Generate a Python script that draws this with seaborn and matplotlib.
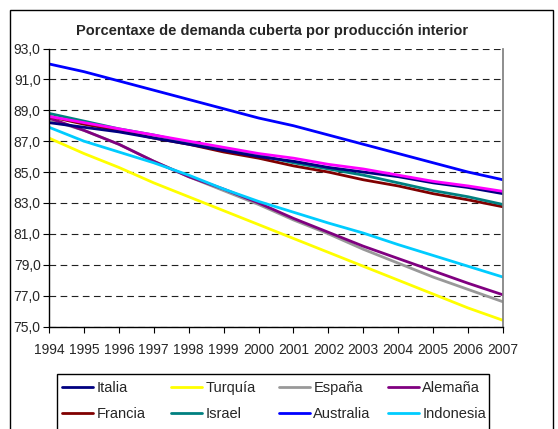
import pandas as pd
import seaborn as sns
import matplotlib.pyplot as plt
from matplotlib.ticker import FuncFormatter
from matplotlib.patches import Rectangle
from matplotlib.lines import Line2D

# values
years = list(range(1994, 2008))
italia = [88.2, 87.9, 87.6, 87.2, 86.8, 86.4, 86.0, 85.7, 85.3, 85.0, 84.7, 84.3, 84.0, 83.6]
turquia = [87.2, 86.2, 85.3, 84.3, 83.4, 82.5, 81.6, 80.7, 79.8, 78.9, 78.0, 77.1, 76.2, 75.4]
espana = [88.4, 87.7, 86.8, 85.7, 84.7, 83.8, 82.9, 81.9, 81.0, 80.0, 79.1, 78.2, 77.4, 76.6]
alemana = [88.5, 87.7, 86.8, 85.7, 84.7, 83.9, 83.0, 82.0, 81.1, 80.2, 79.4, 78.6, 77.8, 77.05]
francia = [88.6, 88.1, 87.7, 87.2, 86.8, 86.3, 85.9, 85.4, 85.0, 84.5, 84.1, 83.6, 83.2, 82.75]
israel = [88.8, 88.3, 87.8, 87.4, 86.9, 86.5, 86.1, 85.6, 85.2, 84.8, 84.3, 83.8, 83.4, 82.9]
australia = [92.0, 91.5, 90.9, 90.3, 89.7, 89.1, 88.5, 88.0, 87.4, 86.8, 86.2, 85.6, 85.0, 84.5]
indonesia = [87.9, 87.0, 86.3, 85.6, 84.8, 83.9, 83.1, 82.4, 81.7, 81.05, 80.3, 79.6, 78.9, 78.2]
# ninth series (its legend entry is cut off in the reference)
outro = [88.6, 88.2, 87.8, 87.4, 87.0, 86.6, 86.2, 85.9, 85.5, 85.2, 84.8, 84.4, 84.1, 83.75]
y_ticks = [75, 77, 79, 81, 83, 85, 87, 89, 91, 93]

series = {
    'Italia': italia, 'Turquía': turquia, 'España': espana, 'Alemaña': alemana,
    'Francia': francia, 'Israel': israel, 'Australia': australia, 'Indonesia': indonesia,
    'Outro': outro,
}
colors = {
    'Italia': '#000080', 'Turquía': '#FFFF00', 'España': '#999999', 'Alemaña': '#800080',
    'Francia': '#800000', 'Israel': '#008080', 'Australia': '#0000FF', 'Indonesia': '#00CCFF',
    'Outro': '#FF00FF',
}
draw_order = ['Turquía', 'España', 'Alemaña', 'Indonesia', 'Francia', 'Israel',
              'Italia', 'Outro', 'Australia']

df = pd.DataFrame([(c, y, v) for c, vals in series.items() for y, v in zip(years, vals)],
                  columns=['pais', 'ano', 'valor'])

sns.set_theme(style='white')
plt.rcParams['font.family'] = ['Liberation Sans', 'DejaVu Sans']

fig = plt.figure(figsize=(5.58, 4.29), dpi=100)
ax = fig.add_axes([49 / 558, 1 - 326.5 / 429, 454 / 558, 278 / 429])

for name in draw_order:
    sub = df[df['pais'] == name]
    sns.lineplot(data=sub, x='ano', y='valor', color=colors[name], linewidth=2.0,
                 ax=ax, legend=False)

ax.set_xlim(1994, 2007)
ax.set_ylim(75, 93)
ax.set_yticks(y_ticks)
ax.set_xticks(years)
ax.yaxis.set_major_formatter(FuncFormatter(lambda v, p: f'{v:.1f}'.replace('.', ',')))
ax.set_xlabel('')
ax.set_ylabel('')
ax.tick_params(axis='both', labelsize=10, length=4, width=0.8, color='black',
               direction='out', pad=2, left=True, bottom=True)
ax.tick_params(axis='x', pad=8)

ax.grid(axis='y', color='#202020', linestyle=(0, (6, 4)), linewidth=0.8)
ax.set_axisbelow(True)
for s in ['left', 'bottom']:
    ax.spines[s].set_color('black')
    ax.spines[s].set_linewidth(1.0)
ax.spines['right'].set_color('#808080')
ax.spines['top'].set_visible(False)

fig.text(272 / 558, 1 - 31 / 429, 'Porcentaxe de demanda cuberta por producción interior',
         ha='center', va='center', fontsize=10.5, fontweight='bold')

# outer chart frame (cut off at the bottom like the reference)
fig.patches.append(Rectangle((10 / 558, -0.05), 543 / 558, 1 - 10 / 429 + 0.05,
                             transform=fig.transFigure, fill=False,
                             edgecolor='black', linewidth=1.0))
# legend frame
fig.patches.append(Rectangle((57 / 558, -0.05), 432 / 558, 1 - 374 / 429 + 0.05,
                             transform=fig.transFigure, fill=False,
                             edgecolor='black', linewidth=1.0))

# Excel legend: four equal-width columns, two rows
leg_cols = [['Italia', 'Francia'], ['Turquía', 'Israel'],
            ['España', 'Australia'], ['Alemaña', 'Indonesia']]
col_x = [62, 171, 279, 388]
for names, x0 in zip(leg_cols, col_x):
    handles = [Line2D([], [], color=colors[n], linewidth=2.0) for n in names]
    fig.legend(handles, names, ncol=1, frameon=False, fontsize=10.5,
               loc='upper left', bbox_to_anchor=(x0 / 558, 1 - 381 / 429),
               handlelength=2.15, handletextpad=0.2, labelspacing=0.85,
               borderaxespad=0, borderpad=0)

fig.savefig('out.png', dpi=100)
